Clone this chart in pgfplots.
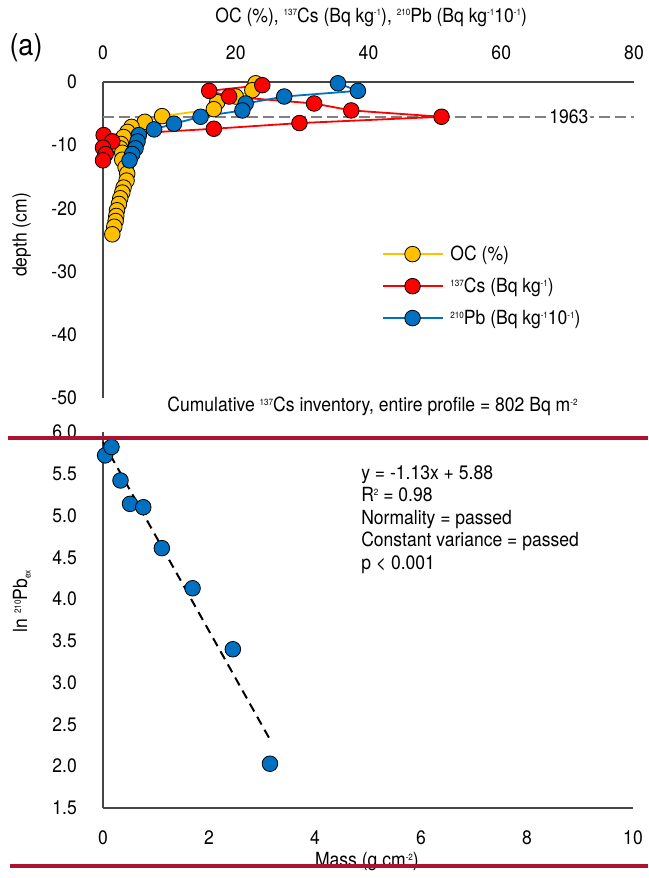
\documentclass[border=0pt]{standalone}
\usepackage{fontspec}
\setmainfont{TeX Gyre Heros}[FakeStretch=0.9]
\usepackage{pgfplots}
\pgfplotsset{compat=1.18}
\definecolor{ocorange}{RGB}{255,192,0}
\definecolor{csred}{RGB}{255,0,0}
\definecolor{pbblue}{RGB}{0,112,192}
\definecolor{axisgray}{RGB}{70,70,70}
\definecolor{dashgray}{RGB}{128,128,128}
\definecolor{sepred}{RGB}{174,18,48}
\newcommand{\sps}[1]{\raisebox{0.62ex}{\fontsize{9}{9}\selectfont #1}}
\newcommand{\sbs}[1]{\raisebox{-0.35ex}{\fontsize{9}{9}\selectfont #1}}
\newcommand{\mainfs}{\fontsize{19.5}{22.5}\selectfont}
\begin{document}
\begin{tikzpicture}[font=\mainfs]
\begin{axis}[
  at={(103pt,480pt)}, anchor=south west,
  scale only axis, width=531pt, height=316pt,
  xmin=0, xmax=80, ymin=-50, ymax=0,
  axis x line=top, axis y line=left,
  axis line style={-, draw=axisgray, line width=1.3pt},
  xtick={0,20,40,60,80}, ytick={-50,-40,-30,-20,-10,0},
  major tick length=0pt,
  tick label style={font=\mainfs},
  /pgf/number format/assume math mode=true,
  xticklabel style={anchor=center, inner sep=0pt, yshift=29pt},
  yticklabel style={anchor=east, inner sep=0pt, xshift=-26pt},
  xlabel={OC (\%), \sps{137}Cs (Bq kg\sps{-1}), \sps{210}Pb (Bq kg\sps{-1}10\sps{-1})},
  xlabel style={at={(axis description cs:0.505,1)}, anchor=center, yshift=65pt, font=\mainfs},
  ylabel={depth (cm)},
  ylabel style={at={(axis description cs:-0.153,0.516)}, anchor=center, font=\mainfs},
  clip=false,
  legend cell align=left,
  legend style={at={(axis cs:41.5,-25.3)}, anchor=north west, draw=none, fill=none, font=\mainfs, row sep=12pt},
  legend image code/.code={\draw[mark repeat=2,mark phase=2,#1] plot coordinates {(0pt,0pt) (30pt,0pt) (60pt,0pt)};},
  every axis plot/.append style={line width=1.8pt, mark=*, mark size=7.8pt},
]
\addplot[dashgray, line width=2.2pt, dash pattern=on 11pt off 5pt, mark=none, forget plot] coordinates {(0,-5.5) (80,-5.5)};
\node[fill=white, inner sep=2pt] at (axis cs:70.2,-5.5) {1963};
\addplot[ocorange, mark options={draw=black, line width=0.8pt, fill=ocorange}] coordinates {
(23.0,-0.2) (22.5,-1.3) (20.0,-2.3) (17.2,-3.2) (16.7,-4.3) (8.9,-5.4) (6.3,-6.3) (4.3,-7.1) (3.7,-7.9) (3.1,-8.7) (2.7,-9.8) (2.6,-10.5) (2.9,-11.2) (2.9,-12.3) (3.4,-13.5) (3.65,-14.5) (3.55,-15.6) (3.1,-16.7) (2.9,-17.5) (2.6,-18.4) (2.4,-19.3) (2.1,-20.3) (2.0,-21.2) (1.9,-22.0) (1.7,-22.9) (1.4,-24.1)};
\addlegendentry{\hspace{5pt}OC (\%)}
\addplot[csred, mark options={draw=black, line width=0.8pt, fill=csred}] coordinates {
(24.0,-0.5) (16.0,-1.4) (19.0,-2.3) (31.8,-3.4) (37.4,-4.5) (51.0,-5.5) (29.6,-6.5) (16.7,-7.4) (0.1,-8.4) (1.4,-9.4) (0.0,-10.4) (0.4,-11.4) (0.0,-12.4)};
\addlegendentry{\hspace{5pt}\sps{137}Cs (Bq kg\sps{-1})}
\addplot[pbblue, mark options={draw=black, line width=0.8pt, fill=pbblue}] coordinates {
(35.4,-0.2) (38.4,-1.4) (27.3,-2.3) (21.5,-3.4) (21.0,-4.5) (14.7,-5.5) (10.7,-6.6) (7.7,-7.5) (5.4,-8.4) (5.2,-9.4) (4.9,-10.5) (4.4,-11.4) (4.0,-12.4)};
\addlegendentry{\hspace{5pt}\sps{210}Pb (Bq kg\sps{-1}10\sps{-1})}
\node at (axis cs:40.6,-51.4) {Cumulative \sps{137}Cs inventory, entire profile = 802 Bq m\sps{-2}};
\end{axis}
\begin{axis}[
  at={(103pt,70pt)}, anchor=south west,
  scale only axis, width=530pt, height=376pt,
  xmin=0, xmax=10, ymin=1.5, ymax=6,
  axis x line=bottom, axis y line=left,
  axis line style={-, draw=axisgray, line width=1.3pt},
  xtick={0,2,4,6,8,10}, ytick={1.5,2.0,2.5,3.0,3.5,4.0,4.5,5.0,5.5,6.0},
  major tick length=0pt,
  tick label style={font=\mainfs},
  /pgf/number format/assume math mode=true,
  yticklabel style={/pgf/number format/fixed, /pgf/number format/fixed zerofill, /pgf/number format/precision=1, anchor=east, inner sep=0pt, xshift=-26pt},
  xticklabel style={anchor=center, inner sep=0pt, yshift=-30pt},
  xlabel={Mass (g cm\sps{-2})},
  xlabel style={at={(axis description cs:0.498,0)}, anchor=center, yshift=-54pt, font=\mainfs},
  ylabel={ln \sps{210}Pb\sbs{ex}},
  ylabel style={at={(axis description cs:-0.153,0.55)}, anchor=center, font=\mainfs},
  clip=false,
]
\addplot[black, line width=2pt, dash pattern=on 9pt off 6pt] coordinates {(0,5.88) (3.15,2.32)};
\addplot[only marks, mark=*, mark size=7.8pt, mark options={draw=black, line width=0.8pt, fill=pbblue}] coordinates {
(0.04,5.72) (0.16,5.82) (0.33,5.42) (0.51,5.14) (0.76,5.10) (1.11,4.61) (1.69,4.13) (2.45,3.40) (3.15,2.03)};
\node[anchor=north west, align=left, inner sep=0pt, font=\mainfs] at (axis cs:4.87,5.60) {y = -1.13x + 5.88\\R\sps{2} = 0.98\\Normality = passed\\Constant variance = passed\\p < 0.001};
\end{axis}
\node[font=\fontsize{30}{30}\selectfont] at (26pt,830pt) {(a)};
\draw[sepred, line width=4pt] (8pt,440pt) -- (648pt,440pt);
\draw[sepred, line width=4pt] (10pt,12pt) -- (648pt,12pt);
\pgfresetboundingbox
\path[use as bounding box] (0pt,0pt) rectangle (648pt,878pt);
\end{tikzpicture}
\end{document}
